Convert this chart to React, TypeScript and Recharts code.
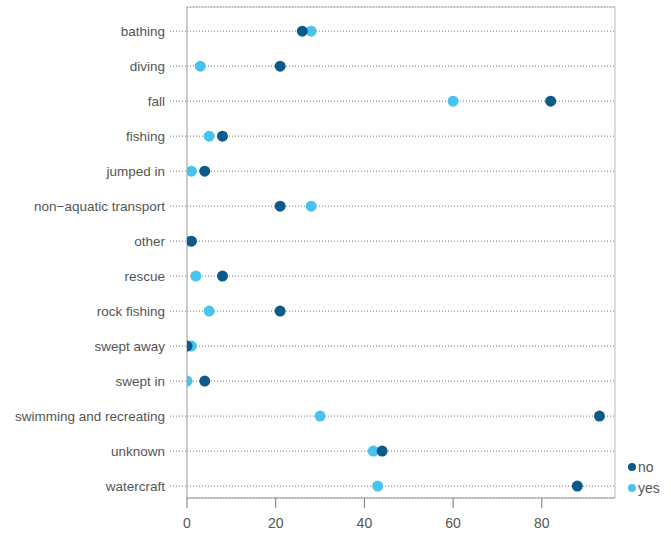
import { ScatterChart, Scatter, XAxis, YAxis, CartesianGrid, ReferenceLine } from 'recharts'

const causes = [
  'bathing',
  'diving',
  'fall',
  'fishing',
  'jumped in',
  'non\u2212aquatic transport',
  'other',
  'rescue',
  'rock fishing',
  'swept away',
  'swept in',
  'swimming and recreating',
  'unknown',
  'watercraft',
]
const noValues = [26, 21, 82, 8, 4, 21, 1, 8, 21, 0, 4, 93, 44, 88]
const yesValues = [28, 3, 60, 5, 1, 28, 0, 2, 5, 1, 0, 30, 42, 43]
const xTicks = [0, 20, 40, 60, 80]

const NO_COLOR = '#0b5a8a'
const YES_COLOR = '#48c3ef'
const X_MAX = 96.5
const Y_MIN = -0.69
const Y_MAX = 13.34
const FONT = '"Liberation Sans", Arial, sans-serif'

const noData = causes.map((c, i) => ({ cause: c, y: i, x: noValues[i] }))
const yesData = causes.map((c, i) => ({ cause: c, y: i, x: yesValues[i] }))

const dot = (color: string) => (props: any) => (
  <circle cx={props.cx} cy={props.cy} r={5.5} fill={color} />
)

// legend sits outside the svg, to the right of the panel bottom
function LegendBox() {
  const items = [
    { name: 'no', color: NO_COLOR },
    { name: 'yes', color: YES_COLOR },
  ]
  return (
    <div
      style={{
        position: 'absolute',
        left: 627,
        top: 456,
        fontFamily: FONT,
        fontSize: 14,
        color: '#555',
      }}
    >
      {items.map((it) => (
        <div key={it.name} style={{ display: 'flex', alignItems: 'center', height: 21 }}>
          <svg width={10} height={10} style={{ marginRight: 1 }}>
            <circle cx={5} cy={5} r={4} fill={it.color} />
          </svg>
          <span>{it.name}</span>
        </div>
      ))}
    </div>
  )
}

export default function App() {
  return (
    <div style={{ position: 'absolute', left: 0, top: 0, width: 671, height: 536, background: '#fff' }}>
      <ScatterChart width={671} height={536} margin={{ top: 7, right: 56, left: 0, bottom: 0 }}>
        <CartesianGrid vertical={false} stroke="#777" strokeDasharray="1 2" />
        <XAxis
          type="number"
          dataKey="x"
          domain={[0, X_MAX]}
          ticks={xTicks}
          allowDataOverflow
          height={38}
          tickSize={10}
          tickMargin={10}
          stroke="#999"
          tickLine={{ stroke: '#777' }}
          tick={{ fontSize: 14, fill: '#555', fontFamily: FONT }}
        />
        <YAxis
          type="number"
          dataKey="y"
          reversed
          domain={[Y_MIN, Y_MAX]}
          ticks={causes.map((_, i) => i)}
          interval={0}
          allowDataOverflow
          tickFormatter={(v: number) => causes[v]}
          width={187}
          tickSize={17}
          tickMargin={5}
          stroke="#999"
          tickLine={{ stroke: '#777', strokeDasharray: '1 2' }}
          tick={{ fontSize: 13.5, fill: '#555', fontFamily: FONT }}
        />
        <ReferenceLine y={Y_MIN} stroke="#bbb" />
        <ReferenceLine x={X_MAX} stroke="#bbb" />
        <Scatter name="yes" data={yesData} fill={YES_COLOR} shape={dot(YES_COLOR)} isAnimationActive={false} />
        <Scatter name="no" data={noData} fill={NO_COLOR} shape={dot(NO_COLOR)} isAnimationActive={false} />
      </ScatterChart>
      <LegendBox />
    </div>
  )
}
